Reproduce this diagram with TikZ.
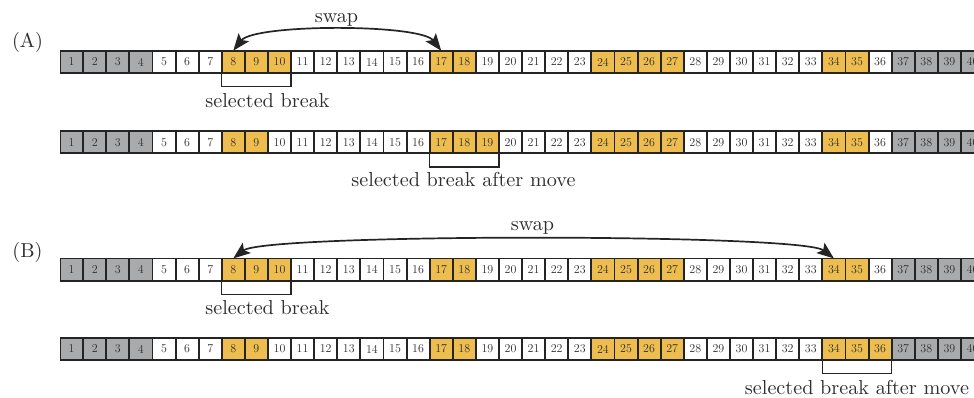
\documentclass[tikz,border=0pt]{standalone}
\usetikzlibrary{arrows.meta}

\definecolor{graycell}{HTML}{A8AAAB}
\definecolor{goldcell}{HTML}{EDBD4F}
\definecolor{frame}{HTML}{242424}
\definecolor{ink}{HTML}{2E2E2E}

\tikzset{
  cell/.style={minimum width=21.2pt, minimum height=20.6pt, inner sep=0pt,
    outer sep=1pt, text=ink, font=\fontsize{12}{12}\selectfont},
  caption/.style={anchor=base, inner sep=0pt, text=ink,
    font=\fontsize{10}{12}\selectfont, scale=2.02},
  bracket/.style={draw=frame, line width=1.5pt},
  swaparrow/.style={draw=frame, line width=1.7pt,
    {Stealth[length=17pt,width=13pt,inset=3.5pt]}-{Stealth[length=17pt,width=13pt,inset=3.5pt]}}
}

% one row of 40 numbered slots: #1 name prefix, #2 centre line, #3 highlighted slots
\makeatletter
\newcommand\slotrow[3]{%
  \fill[frame] (59.5,#2-12) rectangle (1000,#2+12);
  \foreach \i in {1,...,40}{%
    \edef\cellfill{white}%
    \edef\tmp{\noexpand\in@{,\i,}{,1,2,3,4,37,38,39,40,}}\tmp
    \ifin@\edef\cellfill{graycell}\fi
    \edef\tmp{\noexpand\in@{,\i,}{,#3,}}\tmp
    \ifin@\edef\cellfill{goldcell}\fi
    \node[cell, fill=\cellfill] (#1-\i) at ({71.6+(\i-1)*23.1}, #2) {\i};
  }}
\makeatother

\begin{document}
\begin{tikzpicture}[x=1pt, y=-1pt]
\useasboundingbox (0,0) rectangle (974,398);
\clip (0,0) rectangle (974,398);

% (A): swap two breaks of the same size
\node[caption] (labA) at (27.5,48) {(A)};
\slotrow{a}{62}{8,9,10,17,18,24,25,26,27,34,35}
\draw[swaparrow] (a-17.north) .. controls +(-21,-27) and +(21,-27) .. (a-8.north);
\node[caption] (swapA) at (336.5,22.7) {swap};
\draw[bracket] (a-8.south west) -- ++(0,13.3) -| (a-10.south east);
\node[caption] (selA) at (267.5,107.5) {selected break};

\slotrow{am}{142.2}{8,9,17,18,19,24,25,26,27,34,35}
\draw[bracket] (am-17.south west) -- ++(0,13.3) -| (am-19.south east);
\node[caption] (movA) at (463.5,187) {selected break after move};

% (B): swap into a gap next to another break
\node[caption] (labB) at (27.5,257.5) {(B)};
\slotrow{b}{269.7}{8,9,10,17,18,24,25,26,27,34,35}
\draw[swaparrow] (b-8.north) .. controls +(32,-25) and +(-32,-25) .. (b-34.north);
\node[caption] (swapB) at (532.5,230.5) {swap};
\draw[bracket] (b-8.south west) -- ++(0,13.3) -| (b-10.south east);
\node[caption] (selB) at (267.5,314.5) {selected break};

\slotrow{bm}{349}{8,9,17,18,24,25,26,27,34,35,36}
\draw[bracket] (bm-34.south west) -- ++(0,13.3) -| (bm-36.south east);
\node[caption] (movB) at (857,394) {selected break after move};
\end{tikzpicture}
\end{document}
